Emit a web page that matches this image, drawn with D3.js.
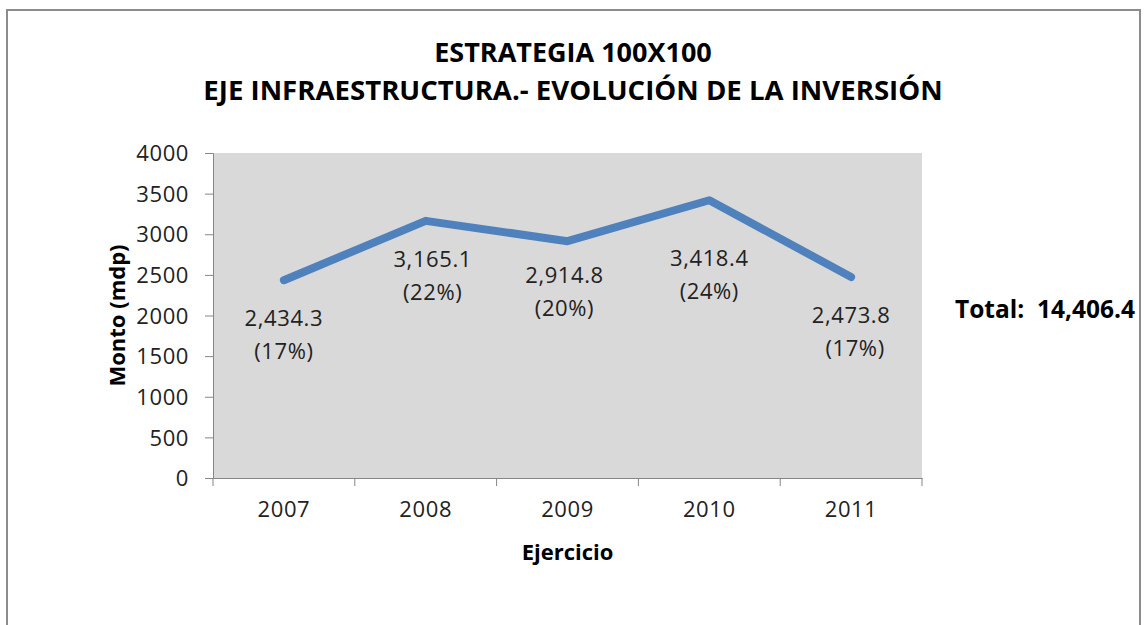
<!DOCTYPE html>
<html>
<head>
<meta charset="utf-8">
<script src="https://cdn.jsdelivr.net/npm/d3@7"></script>
<style>
  body { margin: 0; background: #fff; }
  svg { display: block; font-family: "Open Sans", sans-serif; }
</style>
</head>
<body>
<svg id="chart" width="1146" height="625"></svg>
<script>
const years = ['2007', '2008', '2009', '2010', '2011'];
const amounts = [2434.3, 3165.1, 2914.8, 3418.4, 2473.8];
const shares = ['(17%)', '(22%)', '(20%)', '(24%)', '(17%)'];
const amountLabels = ['2,434.3', '3,165.1', '2,914.8', '3,418.4', '2,473.8'];
const yTicks = [0, 500, 1000, 1500, 2000, 2500, 3000, 3500, 4000];
const titleLines = ['ESTRATEGIA 100X100', 'EJE INFRAESTRUCTURA.- EVOLUCIÓN DE LA INVERSIÓN'];
const totalLabel = 'Total:  14,406.4';

const svg = d3.select('#chart');
const plot = {left: 213, right: 922, top: 153, bottom: 478};

// outer frame
svg.append('rect')
  .attr('x', 7).attr('y', 10)
  .attr('width', 1133).attr('height', 640)
  .attr('fill', 'none').attr('stroke', '#8c8c8c').attr('stroke-width', 2);

svg.selectAll('.title')
  .data(titleLines)
  .enter().append('text')
  .attr('x', 573)
  .attr('y', (d, i) => 62 + i * 38)
  .attr('text-anchor', 'middle')
  .attr('font-size', (d, i) => i === 0 ? 27 : 27.6)
  .attr('font-weight', 'bold')
  .attr('fill', '#000')
  .text(d => d);

const x = d3.scaleBand().domain(years).range([plot.left, plot.right]);
const y = d3.scaleLinear().domain([0, 4000]).range([plot.bottom, plot.top]);

svg.append('rect')
  .attr('x', plot.left).attr('y', plot.top)
  .attr('width', plot.right - plot.left).attr('height', plot.bottom - plot.top)
  .attr('fill', '#d9d9d9');

const yAxis = svg.append('g')
  .attr('transform', 'translate(' + plot.left + ',0)')
  .call(d3.axisLeft(y).tickValues(yTicks).tickFormat(d3.format('d'))
    .tickSize(8).tickPadding(16));

const xAxis = svg.append('g')
  .attr('transform', 'translate(0,' + plot.bottom + ')')
  .call(d3.axisBottom(x).tickSize(0).tickPadding(23));

// category separators on the x axis
xAxis.selectAll('.sep')
  .data(d3.range(years.length + 1))
  .enter().append('line')
  .attr('x1', i => plot.left + i * x.step())
  .attr('x2', i => plot.left + i * x.step())
  .attr('y1', 0).attr('y2', 8)
  .attr('stroke', '#868686');

[yAxis, xAxis].forEach(g => {
  g.selectAll('path, line').attr('stroke', '#868686');
  g.selectAll('text').attr('font-size', 22).attr('fill', '#222')
    .attr('letter-spacing', 0.6)
    .attr('font-family', '"Open Sans", sans-serif');
});
yAxis.selectAll('text').attr('dy', '0.35em');

const line = d3.line()
  .x((d, i) => x(years[i]) + x.bandwidth() / 2)
  .y(d => y(d));

svg.append('path')
  .attr('d', line(amounts))
  .attr('fill', 'none')
  .attr('stroke', '#4f81bd')
  .attr('stroke-width', 8)
  .attr('stroke-linecap', 'round')
  .attr('stroke-linejoin', 'round');

// data labels: offsets from the point
const labelDx = [0, 7, -3, 0, 0];
const labelDy = [46, 46, 42, 66, 46];
const labels = svg.append('g');
amounts.forEach((v, i) => {
  const cx = x(years[i]) + x.bandwidth() / 2 + labelDx[i];
  const cy = y(v) + labelDy[i];
  labels.append('text')
    .attr('x', cx).attr('y', cy)
    .attr('text-anchor', 'middle')
    .attr('font-size', 22).attr('letter-spacing', 0.6).attr('fill', '#222')
    .text(amountLabels[i]);
  labels.append('text')
    .attr('x', cx + (i === 4 ? 4 : 0)).attr('y', cy + 33)
    .attr('text-anchor', 'middle')
    .attr('font-size', 22).attr('letter-spacing', 0.6).attr('fill', '#222')
    .text(shares[i]);
});

svg.append('text')
  .attr('transform', 'translate(125,' + (plot.top + plot.bottom) / 2 + ') rotate(-90)')
  .attr('text-anchor', 'middle')
  .attr('font-size', 22).attr('font-weight', 'bold')
  .text('Monto (mdp)');

svg.append('text')
  .attr('x', (plot.left + plot.right) / 2).attr('y', 560)
  .attr('text-anchor', 'middle')
  .attr('font-size', 22).attr('font-weight', 'bold')
  .text('Ejercicio');

svg.append('text')
  .attr('x', 955).attr('y', 318)
  .attr('font-size', 24.5).attr('font-weight', 'bold')
  .style('white-space', 'pre')
  .text(totalLabel);
</script>
</body>
</html>
